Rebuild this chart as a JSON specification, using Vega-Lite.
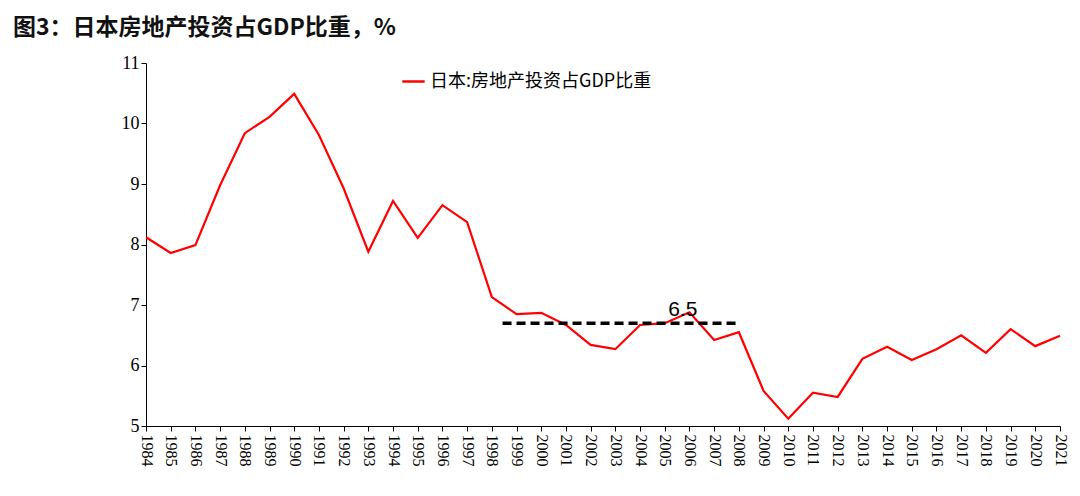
{
"$schema":"https://vega.github.io/schema/vega-lite/v6.json",
"autosize":"none",
"width":914,"height":363,
"padding":{"left":146,"top":63,"right":20,"bottom":70},
"background":"white",
"config":{"view":{"stroke":null},"font":"Liberation Serif"},
"title":{"text":"图3：日本房地产投资占GDP比重，%","anchor":"start","dx":-108,"offset":14,"fontSize":23,"font":"Noto Sans CJK SC","fontWeight":"bold","color":"#111"},
"datasets":{"main":[
{"year":"1984","v":8.12},{"year":"1985","v":7.86},{"year":"1986","v":7.99},{"year":"1987","v":8.98},{"year":"1988","v":9.84},{"year":"1989","v":10.11},{"year":"1990","v":10.49},{"year":"1991","v":9.81},{"year":"1992","v":8.93},{"year":"1993","v":7.88},{"year":"1994","v":8.72},{"year":"1995","v":8.11},{"year":"1996","v":8.65},{"year":"1997","v":8.37},{"year":"1998","v":7.13},{"year":"1999","v":6.85},{"year":"2000","v":6.87},{"year":"2001","v":6.67},{"year":"2002","v":6.34},{"year":"2003","v":6.27},{"year":"2004","v":6.67},{"year":"2005","v":6.70},{"year":"2006","v":6.88},{"year":"2007","v":6.42},{"year":"2008","v":6.55},{"year":"2009","v":5.58},{"year":"2010","v":5.12},{"year":"2011","v":5.55},{"year":"2012","v":5.48},{"year":"2013","v":6.11},{"year":"2014","v":6.31},{"year":"2015","v":6.09},{"year":"2016","v":6.27},{"year":"2017","v":6.50},{"year":"2018","v":6.21},{"year":"2019","v":6.60},{"year":"2020","v":6.32},{"year":"2021","v":6.49}]},
"layer":[
{"data":{"name":"main"},"mark":{"type":"line","strokeWidth":2.2},
"encoding":{
"x":{"field":"year","type":"ordinal","scale":{"type":"point","padding":0},"axis":{"title":null,"labelAngle":90,"labelFontSize":16,"labelColor":"#000","domainColor":"#000","tickColor":"#000","labelPadding":3}},
"y":{"field":"v","type":"quantitative","scale":{"domain":[5,11]},"axis":{"title":null,"tickCount":6,"grid":false,"labelFontSize":18,"labelColor":"#000","domainColor":"#000","tickColor":"#000"}},
"color":{"datum":"日本:房地产投资占GDP比重","scale":{"range":["#ff0000"]},"legend":{"title":null,"orient":"none","legendX":255,"legendY":6,"symbolType":"stroke","symbolStrokeWidth":2.5,"symbolSize":500,"labelFontSize":18,"labelLimit":400,"labelFont":"Noto Sans CJK SC","labelColor":"#000"}}}},
{"data":{"values":[{"a":"1999","b":"2008","v":6.7}]},"mark":{"type":"rule","strokeDash":[9,5],"strokeWidth":3.5,"color":"#000","xOffset":-14},
"encoding":{"x":{"field":"a","type":"ordinal"},"x2":{"field":"b"},"y":{"field":"v","type":"quantitative"}}},
{"data":{"values":[{"year":"2005","v":6.7,"t":"6.5"}]},"mark":{"type":"text","font":"Liberation Sans","fontSize":21,"dx":18,"dy":-13,"color":"#000"},
"encoding":{"x":{"field":"year","type":"ordinal"},"y":{"field":"v","type":"quantitative"},"text":{"field":"t"}}}
]
}
